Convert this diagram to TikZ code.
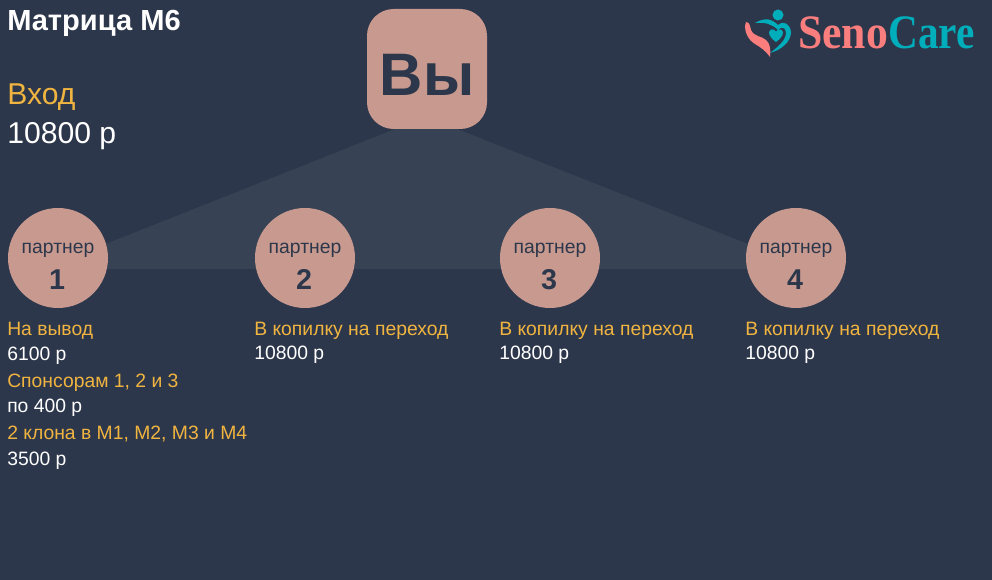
\documentclass[tikz,border=0pt]{standalone}
\usepackage{fontspec}
\setmainfont{Liberation Sans}
\newfontfamily\logofont{Liberation Serif}
\usetikzlibrary{positioning}
\definecolor{bgcol}{HTML}{2D374B}
\definecolor{bandcol}{HTML}{374254}
\definecolor{nodecol}{HTML}{C89A8F}
\definecolor{goldcol}{HTML}{F0B440}
\definecolor{corcol}{HTML}{FA7E7E}
\definecolor{tealcol}{HTML}{00AEBB}
\tikzset{
  partner/.style={circle,fill=nodecol,minimum size=75pt,inner sep=0pt},
  gold/.style={anchor=base west,inner sep=0pt,text=goldcol,font=\fontsize{14.5pt}{16pt}\selectfont},
  sum/.style={anchor=base west,inner sep=0pt,text=white,font=\fontsize{14.5pt}{16pt}\selectfont},
  ptext/.style={anchor=base,inner sep=0pt,text=bgcol,font=\fontsize{14.5pt}{16pt}\selectfont},
  pnum/.style={anchor=base,inner sep=0pt,text=bgcol,font=\bfseries\fontsize{21.5pt}{24pt}\selectfont}
}
\begin{document}
\begin{tikzpicture}[x=0.75pt,y=-0.75pt]
\fill[bgcol] (0,0) rectangle (992,580);
\useasboundingbox (0,0) rectangle (992,580);

% band behind the nodes
\fill[bandcol] (395,129) -- (457,129) -- (796,263) -- (796,269) -- (58,269) -- (58,263) -- cycle;

\node[fill=nodecol,rounded corners=20pt,minimum size=90pt,inner sep=0pt] (you) at (427,69) {};
\node[anchor=base,inner sep=0pt,text=bgcol,font=\bfseries\fontsize{45pt}{48pt}\selectfont] (youtext) at (427,96) {Вы};

\node[anchor=base west,inner sep=0pt,text=white,font=\bfseries\fontsize{21.8pt}{24pt}\selectfont] (title) at (7,31) {Матрица М6};
\node[anchor=base west,inner sep=0pt,text=goldcol,font=\fontsize{22.6pt}{24pt}\selectfont] (entry) at (7,105) {Вход};
\node[anchor=base west,inner sep=0pt,text=white,font=\fontsize{22.6pt}{24pt}\selectfont] (entrysum) at (7,144) {10800 р};

\node[partner] (p1) at (58,258) {};
\node[partner] (p2) at (305,258) {};
\node[partner] (p3) at (550,258) {};
\node[partner] (p4) at (796,258) {};

\node[ptext] (p1t) at (58,254) {партнер};
\node[ptext] (p2t) at (305,254) {партнер};
\node[ptext] (p3t) at (550,254) {партнер};
\node[ptext] (p4t) at (796,254) {партнер};
\node[pnum] (p1n) at (57,290) {1};
\node[pnum] (p2n) at (304,290) {2};
\node[pnum] (p3n) at (549,290) {3};
\node[pnum] (p4n) at (795,290) {4};

\node[gold] (a1) at (7,336) {На вывод};
\node[sum] (a2) at (7,361) {6100 р};
\node[gold] (a3) at (7,388) {Спонсорам 1, 2 и 3};
\node[sum] (a4) at (7,413) {по 400 р};
\node[gold] (a5) at (7,440) {2 клона в М1, М2, М3 и М4};
\node[sum] (a6) at (7,465) {3500 р};

\node[gold] (b1) at (254,336) {В копилку на переход};
\node[sum] (b2) at (254,360) {10800 р};
\node[gold] (c1) at (499,336) {В копилку на переход};
\node[sum] (c2) at (499,360) {10800 р};
\node[gold] (d1) at (745,336) {В копилку на переход};
\node[sum] (d2) at (745,360) {10800 р};

% logo
\fill[tealcol] (778,15) circle (5.5);
\fill[tealcol] (755,23) .. controls (765,17) and (772,19) .. (778,25) .. controls (784,20) and (790,24) .. (791,32) .. controls (791,42) and (781,50) .. (770,53) .. controls (778,47) and (786,40) .. (786,33) .. controls (786,27) and (781,26) .. (778,30) .. controls (772,24) and (765,22) .. (755,23) -- cycle;
\fill[tealcol] (776,42) .. controls (769,37) and (767,32) .. (771,29.5) .. controls (773,28.5) and (775,30) .. (776,31.5) .. controls (777,30) and (779,28.5) .. (781,29.5) .. controls (785,32) and (783,37) .. (776,42) -- cycle;
\fill[corcol] (746,22) .. controls (750,22) and (750,27) .. (751,30) .. controls (754,37) and (762,36) .. (766,40) .. controls (770,43) and (771,50) .. (770,57) .. controls (765,50) and (760,47) .. (755,44) .. controls (748,40) and (743,30) .. (746,22) -- cycle;
\node[anchor=base west,inner sep=0pt,text=corcol,xscale=0.91,font=\logofont\bfseries\fontsize{36pt}{38pt}\selectfont] (seno) at (798,49) {Seno};
\node[anchor=base west,inner sep=0pt,text=tealcol,xscale=0.86,font=\logofont\bfseries\fontsize{36pt}{38pt}\selectfont] (care) at (888,49) {Care};
\end{tikzpicture}
\end{document}
